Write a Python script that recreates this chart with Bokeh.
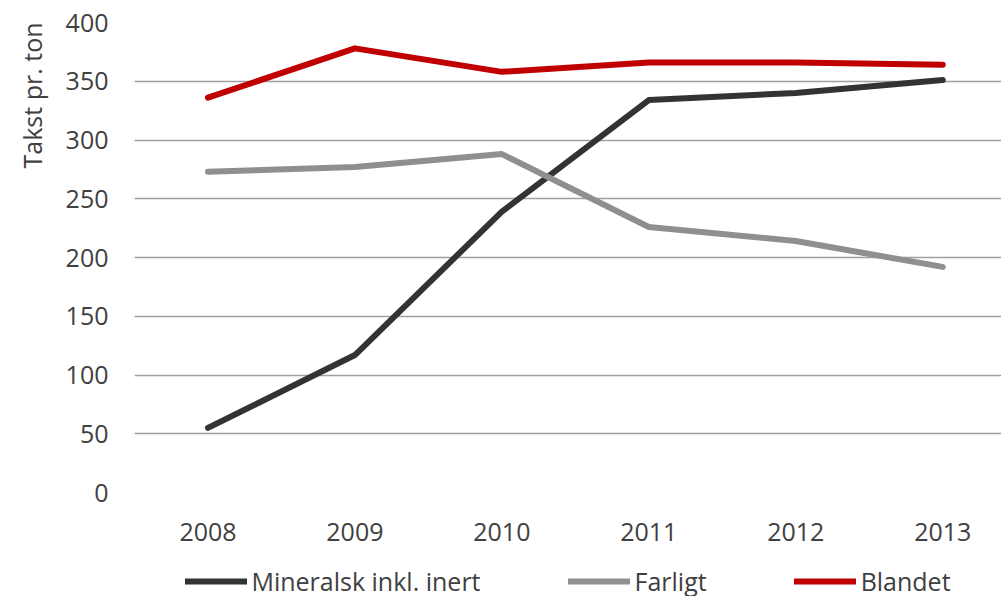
from bokeh.plotting import figure
from bokeh.layouts import column
from bokeh.models import (Range1d, FixedTicker, Legend, LegendItem, Title)
from bokeh.embed import file_html
from bokeh.resources import INLINE

# Tariff per ton by waste category, 2008-2013
years = ["2008", "2009", "2010", "2011", "2012", "2013"]
mineralsk = [55, 117, 239, 334, 340, 351]
farligt = [273, 277, 288, 226, 214, 192]
blandet = [336, 378, 358, 366, 366, 364]
y_ticks = [0, 50, 100, 150, 200, 250, 300, 350, 400]

series_names = ["Mineralsk inkl. inert", "Farligt", "Blandet"]
series_values = [mineralsk, farligt, blandet]
series_colors = ["#333333", "#8f8f8f", "#c00000"]

FONT = "Open Sans"
TEXT = "#404040"

x = list(range(len(years)))

p = figure(width=1001, height=565, output_backend="svg", toolbar_location=None,
           x_range=Range1d(-0.5, 5.4), y_range=Range1d(0, 400),
           min_border_left=134, min_border_right=0, min_border_top=22,
           min_border_bottom=73, outline_line_color=None,
           background_fill_color="white", border_fill_color="white")

for vals, col in zip(series_values, series_colors):
    p.line(x, vals, line_color=col, line_width=6, line_cap="round", line_join="round")

# axes
p.xaxis.ticker = FixedTicker(ticks=x)
p.xaxis.major_label_overrides = {i: y for i, y in enumerate(years)}
p.yaxis.ticker = FixedTicker(ticks=y_ticks)
for ax in (p.xaxis, p.yaxis):
    ax.axis_line_color = None
    ax.major_tick_line_color = None
    ax.minor_tick_line_color = None
    ax.major_tick_out = 0
    ax.major_tick_in = 0
    ax.major_label_text_font = FONT
    ax.major_label_text_font_size = "25px"
    ax.major_label_text_color = TEXT
p.xaxis.major_label_standoff = 30
p.yaxis.major_label_standoff = 26

p.xgrid.grid_line_color = None
p.ygrid.ticker = FixedTicker(ticks=y_ticks)
p.ygrid.grid_line_color = "#a0a0a0"
p.ygrid.grid_line_width = 1.5

p.add_layout(Title(text="Takst pr. ton", align="right", vertical_align="top",
                   text_font=FONT, text_font_size="25px", text_font_style="normal",
                   text_color=TEXT, standoff=23), "left")

# legend strip underneath the chart, its frame aligned with the chart's frame;
# the key lines carry the series data but lie outside the strip's ranges
lg = figure(width=1001, height=31, output_backend="svg", toolbar_location=None,
            x_range=Range1d(0, 1), y_range=Range1d(1000, 1001),
            x_axis_type=None, y_axis_type=None,
            min_border=0, min_border_left=134, outline_line_color=None,
            background_fill_color="white", border_fill_color="white")
lg.grid.visible = False
keys = [lg.line(x, vals, line_color=col, line_width=6, line_cap="round")
        for vals, col in zip(series_values, series_colors)]
legend = Legend(items=[LegendItem(label=n, renderers=[r]) for n, r in zip(series_names, keys)],
                orientation="horizontal", location="center",
                glyph_width=62, glyph_height=20, label_standoff=5, spacing=87,
                padding=0, margin=0, border_line_color=None, background_fill_alpha=0,
                label_text_font=FONT, label_text_font_size="25px", label_text_color=TEXT)
lg.add_layout(legend, "center")

open("out.html", "w").write(file_html(column(p, lg, spacing=0), INLINE))
